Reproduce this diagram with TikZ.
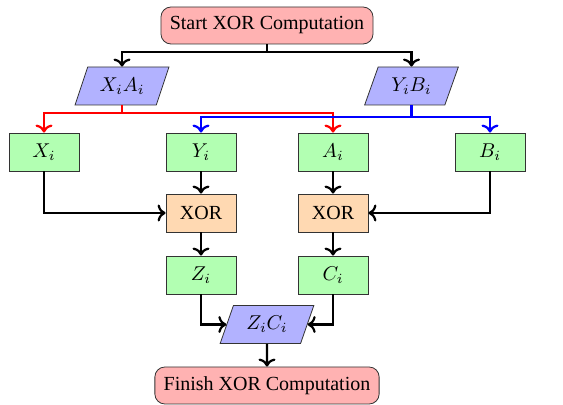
\documentclass[tikz,border=0pt]{standalone}
\usepackage{fontspec}
\setmainfont{Liberation Serif}
\usetikzlibrary{shapes.geometric,arrows.meta}
\begin{document}
\begin{tikzpicture}[x=0.5pt,y=-0.5pt,
  every node/.style={font=\fontsize{10}{12}\selectfont},
  term/.style={draw=black!80, fill=red!30, rounded corners=5pt, inner xsep=4.4pt, minimum height=18.5pt},
  io/.style={draw=black!80, fill=blue!30, trapezium, trapezium left angle=72, trapezium right angle=108, minimum width=47pt, minimum height=19pt, trapezium stretches=true, inner xsep=2pt},
  val/.style={draw=black!80, fill=green!30, minimum width=35pt, minimum height=19pt},
  op/.style={draw=black!80, fill=orange!30, minimum width=35pt, minimum height=19pt},
  arr/.style={->, line width=1.1pt},
]
\useasboundingbox (0,0) rectangle (563,405);
\node[term] (start) at (267,25.5) {Start XOR Computation};
\node[io] (xa) at (122,86) {$X_iA_i$};
\node[io] (yb) at (411.5,86) {$Y_iB_i$};
\node[val] (xi) at (44,152) {$X_i$};
\node[val] (yi) at (201,152) {$Y_i$};
\node[val] (ai) at (333,152) {$A_i$};
\node[val] (bi) at (490,152) {$B_i$};
\node[op] (x1) at (201,213) {XOR};
\node[op] (x2) at (333,213) {XOR};
\node[val] (zi) at (201,275) {$Z_i$};
\node[val] (ci) at (333,275) {$C_i$};
\node[io] (zc) at (267,324.5) {$Z_iC_i$};
\node[term] (fin) at (267,385.5) {Finish XOR Computation};

\draw[arr] (start.south) -- ++(0,8) -| (xa.north);
\draw[arr] (start.south) -- ++(0,8) -| (yb.north);
\draw[arr, red] (xa.south) -- ++(0,8) -| (xi.north);
\draw[arr, red] (xa.south) -- ++(0,8) -| (ai.north);
\draw[arr, blue] (yb.south) -- ++(0,12) -| (yi.north);
\draw[arr, blue] (yb.south) -- ++(0,12) -| (bi.north);
\draw[arr] (yi) -- (x1);
\draw[arr] (ai) -- (x2);
\draw[arr] (xi.south) |- (x1.west);
\draw[arr] (bi.south) |- (x2.east);
\draw[arr] (x1) -- (zi);
\draw[arr] (x2) -- (ci);
\draw[arr] (zi.south) |- (zc.west);
\draw[arr] (ci.south) |- (zc.east);
\draw[arr] (zc) -- (fin);
\end{tikzpicture}
\end{document}
